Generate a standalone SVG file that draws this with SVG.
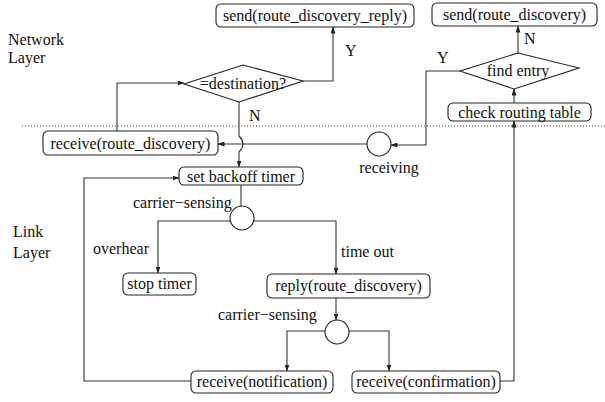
<svg xmlns="http://www.w3.org/2000/svg" width="605" height="402" viewBox="0 0 605 402" font-family="'Liberation Serif', 'DejaVu Serif', serif">
<defs>
<marker id="ah" markerWidth="7" markerHeight="5" refX="6.5" refY="2.5" orient="auto" markerUnits="userSpaceOnUse">
<path d="M0,0 L7,2.5 L0,5 z" fill="#222"/>
</marker>
<style>
text{font-family:'Liberation Serif','DejaVu Serif',serif;font-size:16px;fill:#111}
.box{fill:#fff;stroke:#222;stroke-width:1.1}
.c{text-anchor:middle}
.ln{fill:none;stroke:#333;stroke-width:1.1}
.ar{marker-end:url(#ah)}
</style>
</defs>
<rect width="605" height="402" fill="#fff"/>
<line x1="22" y1="126" x2="605" y2="126" stroke="#444" stroke-width="1" stroke-dasharray="1,2"/>
<text x="8" y="45">Network</text>
<text x="8" y="63">Layer</text>
<text x="13" y="237">Link</text>
<text x="13" y="258">Layer</text>

<g id="connectors">
<path class="ln ar" d="M117,131 V83 H184"/>
<path class="ln ar" d="M303,81 H333 V27"/>
<path class="ln ar" d="M239,102 V136 Q247,144 239,152 V167"/>
<path class="ln ar" d="M367,144 H218"/>
<path class="ln ar" d="M460,71 H426 V145 H391"/>
<path class="ln ar" d="M518,53 V26"/>
<path class="ln ar" d="M514,103 V89"/>
<path class="ln ar" d="M500,381 H514 V121"/>
<path class="ln ar" d="M191,381 H84 V178 H179"/>
<path class="ln" d="M241,185 V206"/>
<path class="ln ar" d="M231,221 H158 V273"/>
<path class="ln ar" d="M254,221 H336 V274"/>
<path class="ln ar" d="M336,298 V320"/>
<path class="ln ar" d="M325,331 H287 V371"/>
<path class="ln ar" d="M349,331 H389 V371"/>
<text x="345" y="56">Y</text>
<text x="249" y="121">N</text>
<text x="437" y="63">Y</text>
<text x="524" y="44">N</text>
<text x="133" y="208">carrier−sensing</text>
<text x="93" y="254">overhear</text>
<text x="341" y="257">time out</text>
<text x="218" y="320">carrier−sensing</text>
</g>

<g id="send_reply"><rect class="box" x="216" y="4" width="198" height="23" rx="5"/><text class="c" x="315" y="21">send(route_discovery_reply)</text></g>
<g id="send_rd"><rect class="box" x="432" y="3" width="165" height="23" rx="5"/><text class="c" x="514.5" y="20">send(route_discovery)</text></g>
<g id="dest"><polygon class="box" points="184,84 243,65 303,81 239,102"/><text class="c" x="243" y="89">=destination?</text></g>
<g id="find_entry"><polygon class="box" points="460,71 518,53 579,68 514,89"/><text class="c" x="518" y="76">find entry</text></g>
<g id="check_rt"><rect class="box" x="448" y="103" width="143" height="18" rx="5"/><text class="c" x="519.5" y="118">check routing table</text></g>
<g id="receive_rd"><rect class="box" x="43" y="131" width="175" height="24" rx="5"/><text class="c" x="130.5" y="149">receive(route_discovery)</text></g>
<g id="receiving"><circle class="box" cx="379" cy="144" r="12"/><text class="c" x="389" y="173">receiving</text></g>
<g id="set_backoff"><rect class="box" x="179" y="167" width="124" height="18" rx="5"/><text class="c" x="241" y="182">set backoff timer</text></g>
<g id="cs1"><circle class="box" cx="242" cy="218" r="12"/></g>
<g id="stop_timer"><rect class="box" x="123" y="273" width="73" height="22" rx="5"/><text class="c" x="159.5" y="289">stop timer</text></g>
<g id="reply_rd"><rect class="box" x="267" y="274" width="163" height="24" rx="5"/><text class="c" x="348.5" y="291">reply(route_discovery)</text></g>
<g id="cs2"><circle class="box" cx="337" cy="332" r="12"/></g>
<g id="recv_notif"><rect class="box" x="191" y="371" width="142" height="22" rx="5"/><text class="c" x="262" y="387">receive(notification)</text></g>
<g id="recv_conf"><rect class="box" x="352" y="371" width="148" height="22" rx="5"/><text class="c" x="426" y="387">receive(confirmation)</text></g>
</svg>
